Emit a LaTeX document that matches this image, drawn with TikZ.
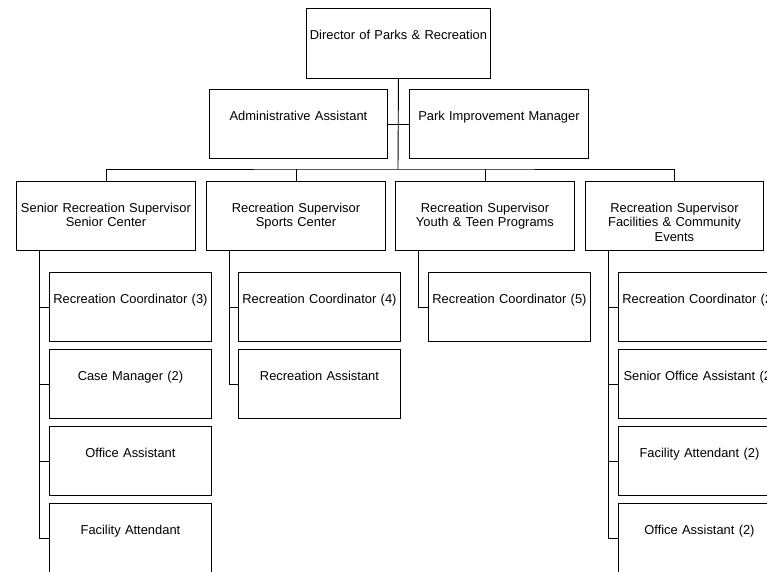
\documentclass[tikz,border=0pt]{standalone}
\usepackage{fontspec}
\setmainfont{Liberation Sans}
\usetikzlibrary{calc}

\begin{document}
\begin{tikzpicture}[x=1pt,y=-1pt,
    font=\fontsize{12.9}{14.5}\selectfont,
    link/.style={draw,line width=0.9pt},
    post/.style={draw,line width=0.9pt,anchor=north west,inner sep=0pt,
      align=center,text width=#1pt,text height=31pt,text depth=38pt},
    post/.default=162]
  \clip (0,0) rectangle (767,571);
  \def\rowh{77}
  % top of the chart
  \node[post=184,text depth=39pt] (dir) at (306,8) {Director of Parks \& Recreation};
  \node[post=178] (adm) at (209,89) {Administrative Assistant};
  \node[post=179] (pim) at (409,89) {Park Improvement Manager};
  \coordinate (bus) at (398,169);
  \draw[link] (dir.south) -- (bus);
  \draw[link] (adm.east) -- (pim.west);
  % supervisors
  \node[post=179] (s1) at (16,181) {Senior Recreation Supervisor\\Senior Center};
  \node[post=179] (s2) at (206,181) {Recreation Supervisor\\Sports Center};
  \node[post=179] (s3) at (395,181) {Recreation Supervisor\\Youth \& Teen Programs};
  \node[post=178] (s4) at (585,181) {Recreation Supervisor\\Facilities \& Community\\Events};
  \draw[link] (s1.north) |- (bus) -| (s4.north);
  \draw[link] (s2.north) -- (s2.north |- bus);
  \draw[link] (s3.north) -- (s3.north |- bus);
  \foreach \c in {1,...,4}
    \coordinate (sp\c) at ($(s\c.south west)+(23,0)$);
  % staff under each supervisor
  \foreach \r/\txt in {1/{Recreation Coordinator (3)},2/{Case Manager (2)},3/{Office Assistant},4/{Facility Attendant}}
    \node[post] (c1-\r) at (49,272+\rowh*\r-\rowh) {\txt};
  \foreach \r/\txt in {1/{Recreation Coordinator (4)},2/{Recreation Assistant}}
    \node[post] (c2-\r) at (238,272+\rowh*\r-\rowh) {\txt};
  \node[post] (c3-1) at (428,272) {Recreation Coordinator (5)};
  \foreach \r/\txt in {1/{Recreation Coordinator (2)},2/{Senior Office Assistant (2)},3/{Facility Attendant (2)},4/{Office Assistant (2)}}
    \node[post] (c4-\r) at (618,272+\rowh*\r-\rowh) {\txt};
  \foreach \c/\n in {1/4,2/2,3/1,4/4}{
    \draw[link] (sp\c) |- (c\c-\n.west);
    \foreach \r in {1,...,\n}
      \draw[link] (c\c-\r.west) -- (c\c-\r.west -| sp\c);
  }
\end{tikzpicture}
\end{document}
